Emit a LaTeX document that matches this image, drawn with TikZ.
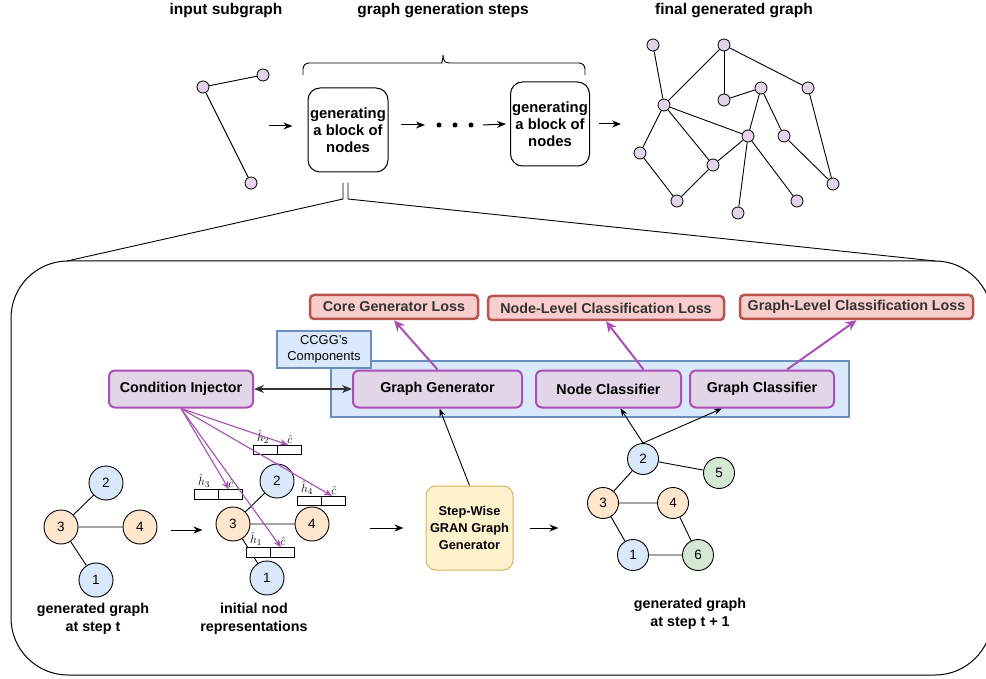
\documentclass[tikz,border=0pt]{standalone}
\usepackage{fontspec}
\setmainfont{Liberation Sans}
\usepackage{amsmath}
\usetikzlibrary{arrows.meta, calc}

\definecolor{purpfill}{HTML}{E1D5E7}
\definecolor{purpline}{HTML}{A94FB6}
\definecolor{redfill}{HTML}{F8CECC}
\definecolor{redline}{HTML}{B85450}
\definecolor{bluefill}{HTML}{DAE8FC}
\definecolor{blueline}{HTML}{6C8EBF}
\definecolor{orangefill}{HTML}{FFE6CC}
\definecolor{greenfill}{HTML}{D5E8D4}
\definecolor{yellowfill}{HTML}{FFF2CC}
\definecolor{yellowline}{HTML}{D6B656}
\definecolor{darktext}{HTML}{333333}

\newcommand{\fsz}[2]{\fontsize{#1}{#2}\selectfont}

\tikzset{
    arr/.style = {-{Stealth[length=9pt, width=7pt]}, line width=1pt},
    thinarr/.style = {-{Stealth[length=8pt, width=6pt]}, line width=0.9pt},
    purparr/.style = {-{Stealth[length=11pt, width=10pt]}, line width=2pt, draw=purpline, fill=purpline},
    title/.style = {font=\bfseries\fsz{15.5}{18}},
    label/.style = {font=\bfseries\fsz{14.3}{18}, align=center},
    dot/.style = {circle, draw, fill=purpfill, inner sep=0pt, minimum size=12pt, line width=0.8pt},
    bullet/.style = {circle, fill=black, inner sep=0pt, minimum size=5pt},
    block/.style = {draw, rounded corners=12pt, line width=1pt, align=center,
        minimum width=80pt, minimum height=84pt, inner sep=0pt, font=\bfseries\fsz{14.8}{17}},
    loss/.style = {draw=redline, fill=redfill, line width=2.5pt, rounded corners=4pt,
        text=darktext, font=\bfseries\fsz{14.3}{16}, minimum height=24pt, inner xsep=6pt},
    comp/.style = {draw=purpline, fill=purpfill, line width=2pt, rounded corners=6pt,
        minimum width=144pt, minimum height=37pt, font=\bfseries\fsz{14.3}{16}},
    gnode/.style = {circle, draw, line width=0.9pt, inner sep=0pt, minimum size=34pt, font=\fsz{13.5}{13}},
    snode/.style = {gnode, minimum size=31pt},
    vec/.style = {draw, fill=white, line width=0.9pt, inner sep=0pt, minimum width=24pt, minimum height=9.5pt},
    vlab/.style = {font=\fsz{13}{13}, inner sep=0.5pt}
}

\begin{document}
\begin{tikzpicture}[x=1pt, y=-1pt]
    \useasboundingbox (0,0) rectangle (986,679);
    \clip (0,0) rectangle (986,679);

    % titles
    \node[title] (tin) at (226,11) {input subgraph};
    \node[title] (tsteps) at (443,11) {graph generation steps};
    \node[title] (tfinal) at (734,11) {final generated graph};

    % input subgraph
    \node[dot] (in1) at (203,87) {};
    \node[dot] (in2) at (263,75) {};
    \node[dot] (in3) at (251,183) {};
    \draw[line width=0.9pt] (in1) -- (in2) (in1) -- (in3);

    % generation steps
    \node[block] (b1) at (348,130) {generating\\a block of\\nodes};
    \node[block, minimum width=79pt] (b2) at (550,124) {generating\\a block of\\nodes};
    \foreach \i/\x in {1/439, 2/455, 3/471}
        \node[bullet] (d\i) at (\x,125) {};
    \draw[arr] ([xshift=-39pt, yshift=4pt]b1.west) -- ([xshift=-15pt, yshift=4pt]b1.west);
    \draw[arr] ([xshift=12pt, yshift=5pt]b1.east) -- ([xshift=-14pt]d1.center);
    \draw[arr] ([xshift=12pt]d3.center) -- ([xshift=-4pt]b2.west);
    \draw[arr] ([xshift=9pt]b2.east) -- ([xshift=31pt]b2.east);

    % brace over the steps
    \draw[line width=0.9pt, rounded corners=6pt] (303,75) -- (303,63) -- (436,63)
        [sharp corners] .. controls (441,63) and (443,61) .. (443,55)
        .. controls (443,61) and (445,63) .. (450,63)
        [rounded corners=6pt] -- (585,63) -- (585,75);

    % zoom into one step
    \draw[line width=0.9pt] (343,183) -- (343,199) -- (67,261);
    \draw[line width=0.9pt] (348,183) -- (348,199) -- (935,261);
    \draw[line width=1pt, rounded corners=57pt] (11,261) rectangle (992,675);

    % final generated graph
    \foreach \n/\x/\y in {a/653/45, b/724/45, c/761/88, d/724/100, e/808/88, f/664/105,
                          g/748/136, h/784/136, i/640/153, j/713/165, k/833/184,
                          l/677/201, m/797/201, n/738/213}
        \node[dot] (f\n) at (\x,\y) {};
    \foreach \u/\v in {a/f, b/f, b/d, b/e, d/c, c/g, c/h, e/k, f/i, f/j,
                       f/g, g/j, g/n, g/m, h/k, i/l, l/j}
        \draw[line width=0.9pt] (f\u) -- (f\v);

    % CCGG components
    \draw[draw=blueline, fill=bluefill, line width=1.5pt] (331,361) rectangle (849,417);
    \node[draw=blueline, fill=bluefill, line width=1.5pt, minimum width=94pt, minimum height=37pt,
          inner sep=0pt, align=center, font=\fsz{12.9}{16}] (ccgg) at (324,349.5) {CCGG's\\Components};

    \node[comp] (ci) at (181,389) {Condition Injector};
    \node[comp, minimum width=169pt] (gg) at (437.5,389) {Graph Generator};
    \node[comp, minimum width=145pt] (nc) at (608.5,389) {Node Classifier};
    \node[comp, minimum width=144pt] (gc) at (762,389) {Graph Classifier};

    \node[loss, minimum width=168pt] (cl) at (394,307) {Core Generator Loss};
    \node[loss, minimum width=236pt] (nl) at (606,308) {Node-Level Classification Loss};
    \node[loss, minimum width=233pt] (gl) at (856.5,307) {Graph-Level Classification Loss};

    \draw[purparr] (gg.north) -- (cl.south);
    \draw[purparr] ([xshift=35pt]nc.north) -- (nl.south);
    \draw[purparr] ([xshift=25pt]gc.north) -- (gl.south);
    \draw[{Stealth[length=10pt, width=8pt]}-{Stealth[length=10pt, width=8pt]}, line width=1.3pt, darktext]
        (ci.east) -- (gg.west);

    % generated graph at step t
    \node[gnode, fill=bluefill] (s2) at (106,483) {2};
    \node[gnode, fill=orangefill] (s3) at (61,527) {3};
    \node[gnode, fill=orangefill] (s4) at (140,527) {4};
    \node[gnode, fill=bluefill] (s1) at (96,580) {1};
    \draw[line width=0.9pt] (s3) -- (s2) (s3) -- (s4) (s3) -- (s1);
    \node[label] (lt) at (93,619) {generated graph\\at step t};

    % initial node representations
    \node[gnode, fill=bluefill] (r2) at (277,481) {2};
    \node[gnode, fill=orangefill] (r3) at (233,524) {3};
    \node[gnode, fill=orangefill] (r4) at (312,524) {4};
    \node[gnode, fill=bluefill] (r1) at (267,578) {1};
    \draw[line width=0.9pt] (r3) -- (r2) (r3) -- (r4) (r3) -- (r1);
    \node[label] (lr) at (254,619) {initial nod\\representations};

    \foreach \i/\x/\y in {2/265/450, 3/206/494.5, 4/309/501, 1/258/552.5} {
        \node[vec] (h\i) at (\x,\y) {};
        \node[vec, anchor=west] (c\i) at (h\i.east) {};
        \node[vlab, anchor=south] at ([xshift=-2pt, yshift=1pt]h\i.north) {$\hat{h}_\i$};
        \node[vlab, anchor=south] at ([yshift=1pt]c\i.north) {$\hat{c}$};
    }
    \foreach \i in {2,3,4,1}
        \draw[-{Stealth[length=8pt, width=6.5pt]}, line width=1.1pt, draw=purpline, fill=purpline]
            (ci.south) -- ([xshift=-2pt]c\i.north);

    \draw[arr] ([xshift=14pt, yshift=-3pt]s4.east) -- ++(31,0);

    % step-wise generator
    \node[draw=yellowline, fill=yellowfill, line width=1pt, rounded corners=10pt,
          minimum width=87pt, minimum height=84pt, inner sep=0pt, align=center,
          font=\bfseries\fsz{12.8}{17}] (gran) at (469.5,528) {Step-Wise\\GRAN Graph\\Generator};
    \draw[arr] ([xshift=-56pt]gran.west) -- ([xshift=-22pt]gran.west);
    \draw[arr] ([xshift=16pt]gran.east) -- ([xshift=45pt]gran.east);
    \draw[thinarr] (gran.north) -- ([xshift=2pt]gg.south);

    % generated graph at step t + 1
    \node[snode, fill=bluefill] (n2) at (643,459) {2};
    \node[snode, fill=greenfill] (n5) at (719,473) {5};
    \node[snode, fill=orangefill] (n3) at (603,503) {3};
    \node[snode, fill=orangefill] (n4) at (673,503) {4};
    \node[snode, fill=bluefill] (n1) at (633,555) {1};
    \node[snode, fill=greenfill] (n6) at (698,555) {6};
    \draw[line width=0.9pt] (n2) -- (n5) (n2) -- (n3) (n3) -- (n4)
        (n3) -- (n1) (n1) -- (n6) (n4) -- (n6);
    \draw[thinarr] (n2.north) -- ([xshift=12pt]nc.south);
    \draw[thinarr] (n2.north) -- ([xshift=-40pt]gc.south);
    \node[label] (ln) at (690,614) {generated graph\\at step t + 1};
\end{tikzpicture}
\end{document}
